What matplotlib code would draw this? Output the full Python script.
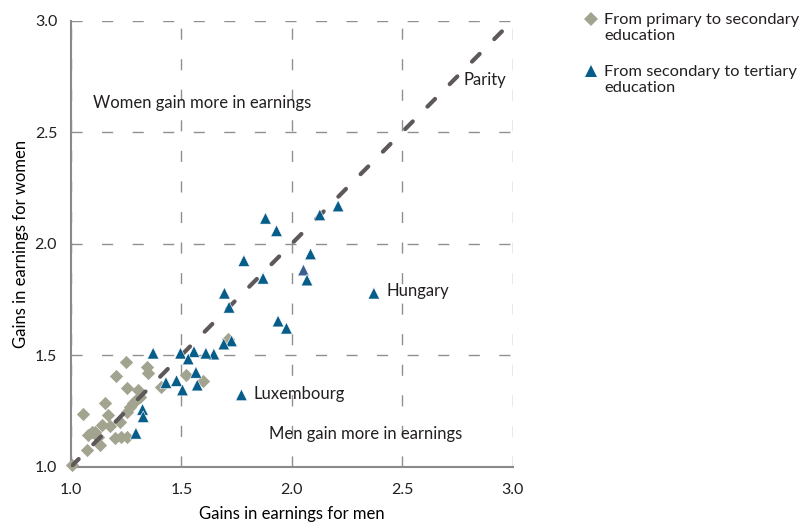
import matplotlib.pyplot as plt
from matplotlib.lines import Line2D

# Earnings gains (ratio of earnings) for men vs women
prim_sec_men = [1.249, 1.204, 1.252, 1.343, 1.350, 1.305, 1.312, 1.294, 1.282,
                1.267, 1.252, 1.222, 1.169, 1.154, 1.053, 1.176, 1.094, 1.078,
                1.124, 1.109, 1.131, 1.071, 1.199, 1.225, 1.252, 1.006, 1.520,
                1.599, 1.406, 1.712, 1.139]
prim_sec_women = [1.471, 1.407, 1.352, 1.448, 1.419, 1.344, 1.314, 1.299, 1.284,
                  1.269, 1.247, 1.202, 1.232, 1.284, 1.236, 1.183, 1.157, 1.142,
                  1.135, 1.157, 1.097, 1.075, 1.127, 1.135, 1.135, 1.008, 1.411,
                  1.386, 1.359, 1.571, 1.187]

sec_ter_men = [1.881, 1.931, 2.127, 2.210, 2.085, 2.053, 2.069, 1.783, 1.870,
               1.695, 1.716, 2.372, 1.938, 1.976, 1.727, 1.692, 1.647, 1.611,
               1.557, 1.496, 1.531, 1.372, 1.566, 1.478, 1.430, 1.505, 1.572,
               1.772, 1.324, 1.327, 1.294]
sec_ter_women = [2.114, 2.058, 2.129, 2.169, 1.954, 1.882, 1.837, 1.924, 1.845,
                 1.778, 1.715, 1.778, 1.653, 1.621, 1.564, 1.550, 1.505, 1.509,
                 1.516, 1.509, 1.483, 1.509, 1.423, 1.386, 1.377, 1.344, 1.366,
                 1.322, 1.257, 1.224, 1.150]
# one observation is shown in a different shade
sec_ter_highlight = [5]

ticks = [1.0, 1.5, 2.0, 2.5, 3.0]
parity = [1.0, 3.0]

GREY = "#a3a490"
BLUE = "#075d8a"
BLUE_HI = "#3b5f92"
TEXT = "#231f20"

plt.rcParams["font.family"] = ["Lato", "DejaVu Sans"]
plt.rcParams["text.color"] = TEXT

fig = plt.figure(figsize=(8.09, 5.25), dpi=100)
ax = fig.add_axes([0.0878, 0.111, 0.5457, 0.8496])

ax.set_xlim(1.0, 3.0)
ax.set_ylim(1.0, 3.0)
ax.set_xticks(ticks)
ax.set_yticks(ticks)
ax.set_xticklabels([f"{t:.1f}" for t in ticks])
ax.set_yticklabels([f"{t:.1f}" for t in ticks])
ax.tick_params(length=0, labelsize=11.5, colors=TEXT)
ax.tick_params(axis="x", pad=12)
ax.tick_params(axis="y", pad=10)

ax.grid(True, color="#8f8f8f", linewidth=1.0, linestyle=(0, (8, 14)))
ax.set_axisbelow(True)
for side in ("top", "right"):
    ax.spines[side].set_visible(False)
for side in ("left", "bottom"):
    ax.spines[side].set_color("#8a8a8a")
    ax.spines[side].set_linewidth(1.5)

ax.scatter(prim_sec_men, prim_sec_women, marker="D", s=46, color=GREY,
           linewidths=0, zorder=3, clip_on=False)
ax.plot(parity, parity, color="#5e5859", linewidth=3.0,
        linestyle=(0, (2.6, 5.0)), dash_capstyle="round", zorder=4)
tri_colors = [BLUE_HI if i in sec_ter_highlight else BLUE
              for i in range(len(sec_ter_men))]
ax.scatter(sec_ter_men, sec_ter_women, marker="^", s=70, c=tri_colors,
           edgecolors="white", linewidths=0.4, zorder=5, clip_on=False)

ax.text(1.10, 2.633, "Women gain more in earnings", fontsize=12, va="center")
ax.text(1.895, 1.147, "Men gain more in earnings", fontsize=12, va="center")
ax.text(2.78, 2.736, "Parity", fontsize=12, va="center")
ax.text(2.427, 1.789, "Hungary", fontsize=12, va="center")
ax.text(1.827, 1.326, "Luxembourg", fontsize=12, va="center")

ax.set_xlabel("Gains in earnings for men", fontsize=12, labelpad=6)
ax.set_ylabel("Gains in earnings for women", fontsize=12, labelpad=4)

# legend drawn by hand to the right of the plot
fig.add_artist(Line2D([591 / 809], [1 - 19 / 525], marker="D", markersize=6.8,
                      color=GREY, linestyle="none", markeredgewidth=0))
fig.add_artist(Line2D([591 / 809], [1 - 71 / 525], marker="^", markersize=8.5,
                      color=BLUE, linestyle="none", markeredgewidth=0))
fig.text(604 / 809, 1 - 28 / 525, "From primary to secondary\neducation",
         fontsize=11.8, va="center", linespacing=1.12)
fig.text(604 / 809, 1 - 80 / 525, "From secondary to tertiary\neducation",
         fontsize=11.8, va="center", linespacing=1.12)

fig.savefig("out.png", dpi=100)
